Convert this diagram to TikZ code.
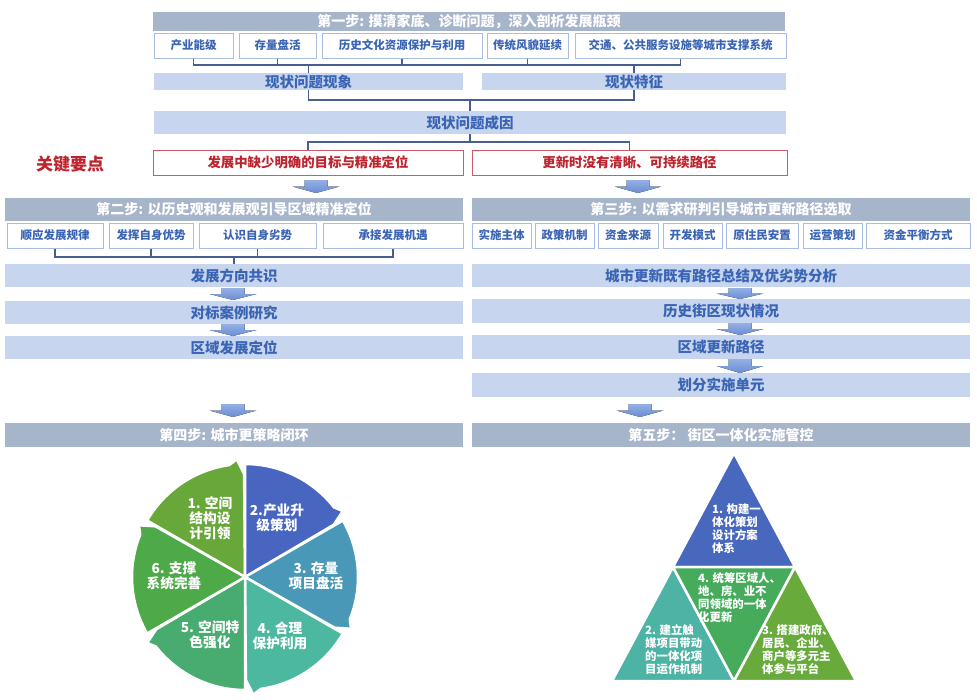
\documentclass[tikz,border=0pt]{standalone}
\usepackage{fontspec}
\setmainfont{Noto Sans CJK SC}
\usepackage{xcolor}

\definecolor{hdrfill}{RGB}{167,181,203}
\definecolor{barfill}{RGB}{199,213,238}
\definecolor{bartext}{RGB}{58,100,180}
\definecolor{subline}{RGB}{168,189,228}
\definecolor{keyred}{RGB}{190,36,46}
\definecolor{redline}{RGB}{205,92,104}
\definecolor{brkline}{RGB}{72,94,142}
\definecolor{arrtop}{RGB}{148,176,228}
\definecolor{arrbot}{RGB}{106,140,210}
\definecolor{pieA}{RGB}{104,168,58}
\definecolor{pieB}{RGB}{72,102,192}
\definecolor{pieC}{RGB}{74,152,184}
\definecolor{pieD}{RGB}{76,184,160}
\definecolor{pieE}{RGB}{72,172,112}
\definecolor{pieF}{RGB}{78,170,72}
\definecolor{triTop}{RGB}{72,104,190}
\definecolor{triLeft}{RGB}{77,180,165}
\definecolor{triMid}{RGB}{70,172,92}
\definecolor{triRight}{RGB}{104,170,60}

% block arrow: x, top, bottom
\newcommand{\flowarr}[3]{%
  \pgfmathsetmacro\fmid{(#2+#3)/2}%
  \fill[flow] ({#1-11.5},#2) -- ({#1+11.5},#2) -- ({#1+11.5},\fmid)
    -- ({#1+23.5},\fmid) -- (#1,#3) -- ({#1-23.5},\fmid)
    -- ({#1-11.5},\fmid) -- cycle;}

\begin{document}
\begin{tikzpicture}[
  x=1pt, y=-1pt,
  hdr/.style={fill=hdrfill, text=white, inner sep=0pt,
              font=\fontsize{14}{16}\selectfont\bfseries},
  item/.style={draw=subline, line width=1pt, fill=white, text=bartext,
               inner sep=0pt, minimum height=25pt,
               font=\fontsize{11.5}{13}\selectfont\bfseries},
  bar/.style={fill=barfill, text=bartext, inner sep=0pt,
              font=\fontsize{14.5}{16}\selectfont\bfseries},
  keybox/.style={draw=redline, line width=1pt, fill=white, text=keyred,
                 inner sep=0pt, minimum height=25pt,
                 font=\fontsize{13.4}{15}\selectfont\bfseries},
  brk/.style={draw=brkline, line width=1.3pt},
  flow/.style={top color=arrtop, bottom color=arrbot},
  piesec/.style={draw=white, line width=2.5pt, line join=round},
  pielbl/.style={text=white, align=center, inner sep=0pt,
                 font=\fontsize{13.7}{15}\selectfont\bfseries},
  trisec/.style={draw=white, line width=2.5pt},
  trilbl/.style={text=white, align=left, anchor=north west, inner sep=0pt,
                 font=\fontsize{11.4}{13}\selectfont\bfseries},
]
\useasboundingbox (0,0) rectangle (977,699);
% Step 1
\node[hdr, minimum width=632pt, minimum height=19pt] (s1) at (469,21.5)
      {第一步: 摸清家底、诊断问题，深入剖析发展瓶颈};
\def\iy{45.5}
\node[item, minimum width=79pt]  (i1) at (193.5,\iy) {产业能级};
\node[item, minimum width=77pt]  (i2) at (277.5,\iy) {存量盘活};
\node[item, minimum width=160pt] (i3) at (402,\iy)   {历史文化资源保护与利用};
\node[item, minimum width=81pt]  (i4) at (527.5,\iy) {传统风貌延续};
\node[item, minimum width=211pt] (i5) at (680.5,\iy) {交通、公共服务设施等城市支撑系统};
\node[bar, minimum width=309pt, minimum height=17pt] (xz) at (308.5,81.5) {现状问题现象};
\node[bar, minimum width=304pt, minimum height=17pt] (tz) at (634,81.5)   {现状特征};
\node[bar, minimum width=632pt, minimum height=23pt] (cy) at (470,122.5)  {现状问题成因};
% key points
\node[text=keyred, inner sep=0pt, font=\fontsize{17}{19}\selectfont\bfseries]
      (kplbl) at (70,164) {关键要点};
\node[keybox, minimum width=310pt] (kp1) at (308,162.5)   {发展中缺少明确的目标与精准定位};
\node[keybox, minimum width=315pt] (kp2) at (629.5,162.5) {更新时没有清晰、可持续路径};
% brackets
\coordinate (j1) at (0,65);
\coordinate (j2) at (0,100);
\coordinate (j3) at (0,142);
\coordinate (j4) at (0,257);
\draw[brk] (i1.south) -- (i1.south |- j1) -- (i5.south |- j1) -- (i5.south);
\foreach \n in {i2,i3,i4} \draw[brk] (\n.south) -- (\n.south |- j1);
\draw[brk] (xz.north |- j1) -- (xz.north);
\draw[brk] (tz.north |- j1) -- (tz.north);
\draw[brk] (xz.south) -- (xz.south |- j2) -- (tz.south |- j2) -- (tz.south);
\draw[brk] (cy.north |- j2) -- (cy.north);
\draw[brk] (cy.south) -- (cy.south |- j3);
\draw[brk] (kp1.north) -- (kp1.north |- j3) -- (kp2.north |- j3) -- (kp2.north);
\flowarr{316}{180}{193}
\flowarr{638}{180}{193}
% Step 2
\node[hdr, minimum width=458pt, minimum height=23pt] (s2) at (234,209.5)
      {第二步: 以历史观和发展观引导区域精准定位};
\def\fy{235.5}
\node[item, minimum width=96pt]  (f1) at (55,\fy)    {顺应发展规律};
\node[item, minimum width=84pt]  (f2) at (151,\fy)   {发挥自身优势};
\node[item, minimum width=117pt] (f3) at (257.5,\fy) {认识自身劣势};
\node[item, minimum width=140pt] (f4) at (393,\fy)   {承接发展机遇};
\node[bar, minimum width=458pt, minimum height=23pt] (l1) at (234,275.5) {发展方向共识};
\node[bar, minimum width=458pt, minimum height=23pt] (l2) at (234,312.5) {对标案例研究};
\node[bar, minimum width=458pt, minimum height=23pt] (l3) at (234,347.5) {区域发展定位};
\draw[brk] (f1.south) -- (f1.south |- j4) -- (f4.south |- j4) -- (f4.south);
\foreach \n in {f2,f3} \draw[brk] (\n.south) -- (\n.south |- j4);
\draw[brk] (l1.north |- j4) -- (l1.north);
\flowarr{233}{288}{300}
\flowarr{233}{324}{336}
\flowarr{233}{404}{417}
% Step 3
\node[hdr, minimum width=498pt, minimum height=23pt] (s3) at (721,209.5)
      {第三步: 以需求研判引导城市更新路径选取};
\node[item, minimum width=59pt]  (p1) at (501.5,\fy) {实施主体};
\node[item, minimum width=59pt]  (p2) at (564.5,\fy) {政策机制};
\node[item, minimum width=60pt]  (p3) at (628,\fy)   {资金来源};
\node[item, minimum width=59pt]  (p4) at (692.5,\fy) {开发模式};
\node[item, minimum width=72pt]  (p5) at (762,\fy)   {原住民安置};
\node[item, minimum width=59pt]  (p6) at (832.5,\fy) {运营策划};
\node[item, minimum width=104pt] (p7) at (918,\fy)   {资金平衡方式};
\node[bar, minimum width=498pt, minimum height=23pt] (r1) at (721,275.5) {城市更新既有路径总结及优劣势分析};
\node[bar, minimum width=498pt, minimum height=24pt] (r2) at (721,311)   {历史街区现状情况};
\node[bar, minimum width=498pt, minimum height=24pt] (r3) at (721,347)   {区域更新路径};
\node[bar, minimum width=498pt, minimum height=24pt] (r4) at (721,385)   {划分实施单元};
\flowarr{740}{288}{299}
\flowarr{740}{323}{335}
\flowarr{740}{359}{373}
\flowarr{640}{404}{417}
% Step 4 and 5
\node[hdr, minimum width=458pt, minimum height=24pt] (s4) at (234,435) {第四步: 城市更策略闭环};
\node[hdr, minimum width=498pt, minimum height=24pt] (s5) at (721,435) {第五步： 街区一体化实施管控};
% cycle
\begin{scope}[shift={(245,577)}, x=1pt, y=1pt]
  \foreach \s/\c in {150/pieA, 90/pieB, 30/pieC, -30/pieD, -90/pieE, -150/pieF} {
    \pgfmathsetmacro\e{\s-60}
    \filldraw[piesec, fill=\c] (0,0) -- (\s:113)
      arc[start angle=\s, end angle=\e+8, radius=113]
      -- ({\e+4}:118) -- ({\e+0.5}:103) -- cycle;
  }
\end{scope}
\node[pielbl] (c1) at (210,518) {1. 空间\\结构设\\计引领};
\node[pielbl] (c2) at (277,518) {2.产业升\\级策划};
\node[pielbl] (c3) at (316,576) {3. 存量\\项目盘活};
\node[pielbl] (c4) at (280,636) {4. 合理\\保护利用};
\node[pielbl] (c5) at (210,635) {5. 空间特\\色强化};
\node[pielbl] (c6) at (174,576) {6. 支撑\\系统完善};
% pyramid
\coordinate (tA) at (734,453);
\coordinate (tL) at (612,681);
\coordinate (tR) at (856,681);
\coordinate (tml) at (673,567);
\coordinate (tmr) at (795,567);
\coordinate (tmb) at (734,681);
\filldraw[trisec, fill=triTop]   (tA) -- (tml) -- (tmr) -- cycle;
\filldraw[trisec, fill=triLeft]  (tml) -- (tL) -- (tmb) -- cycle;
\filldraw[trisec, fill=triMid]   (tml) -- (tmr) -- (tmb) -- cycle;
\filldraw[trisec, fill=triRight] (tmr) -- (tmb) -- (tR) -- cycle;
\node[trilbl] (t1) at (712,504) {1. 构建一\\体化策划\\设计方案\\体系};
\node[trilbl] (t4) at (698,572) {4. 统筹区域人、\\地、房、业不\\同领域的一体\\化更新};
\node[trilbl] (t2) at (645,624) {2. 建立触\\媒项目带动\\的一体化项\\目运作机制};
\node[trilbl] (t3) at (762,624) {3. 搭建政府、\\居民、企业、\\商户等多元主\\体参与平台};
\end{tikzpicture}
\end{document}
